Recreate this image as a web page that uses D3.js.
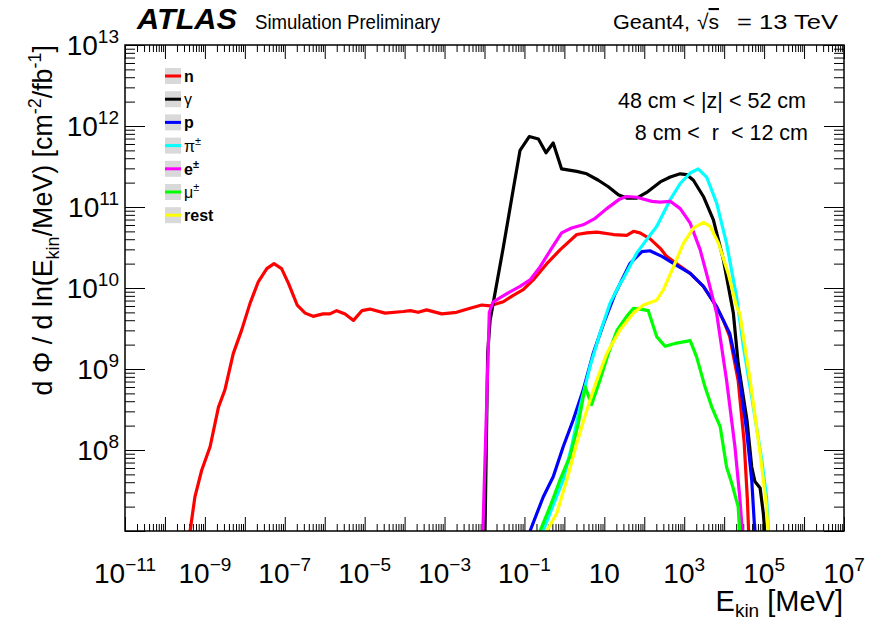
<!DOCTYPE html>
<html>
<head>
<meta charset="utf-8">
<script src="https://cdn.jsdelivr.net/npm/d3@7"></script>
<style>
  html, body { margin: 0; padding: 0; background: #fff; }
  svg { display: block; font-family: "Liberation Sans", Arial, Helvetica, sans-serif; }
</style>
</head>
<body>
<svg id="chart" width="870" height="625"></svg>
<script>
// Particle fluxes: pairs of [log10(E_kin / MeV), log10(dPhi/dlnE)]
const nData = [[-9.46,6.9],[-9.37,7.0],[-9.25,7.42],[-9.08,7.75],[-8.87,8.04],[-8.66,8.53],[-8.50,8.74],[-8.29,9.19],[-8.08,9.48],[-7.87,9.81],[-7.66,10.08],[-7.45,10.24],[-7.27,10.30],[-7.08,10.24],[-6.91,10.06],[-6.69,9.79],[-6.49,9.69],[-6.29,9.65],[-6.04,9.68],[-5.87,9.68],[-5.70,9.72],[-5.49,9.68],[-5.28,9.60],[-5.07,9.72],[-4.87,9.74],[-4.49,9.69],[-4.03,9.71],[-3.86,9.72],[-3.66,9.70],[-3.45,9.73],[-3.07,9.68],[-2.70,9.70],[-2.36,9.75],[-2.07,9.79],[-1.86,9.78],[-1.53,9.83],[-1.28,9.91],[-1.03,9.98],[-0.78,10.10],[-0.44,10.30],[-0.11,10.47],[0.31,10.66],[0.56,10.68],[0.81,10.69],[1.23,10.66],[1.56,10.65],[1.73,10.70],[1.89,10.68],[2.14,10.61],[2.40,10.49],[2.56,10.39],[2.81,10.30],[3.15,10.18],[3.48,10.02],[3.81,9.77],[3.98,9.60],[4.14,9.40],[4.35,8.86],[4.50,8.10],[4.58,7.40],[4.62,6.9]];
const gammaData = [[-1.99,6.9],[-1.92,9.2],[-1.86,9.60],[-1.53,10.50],[-1.28,11.22],[-1.11,11.70],[-0.88,11.87],[-0.65,11.84],[-0.46,11.67],[-0.28,11.79],[-0.07,11.47],[0.31,11.44],[0.56,11.41],[0.85,11.33],[1.10,11.25],[1.35,11.15],[1.56,11.11],[1.81,11.11],[2.06,11.18],[2.40,11.31],[2.65,11.37],[2.90,11.41],[3.06,11.40],[3.23,11.33],[3.48,11.13],[3.73,10.84],[3.98,10.35],[4.23,9.69],[4.35,9.07],[4.57,8.37],[4.69,7.79],[4.77,7.61],[4.90,7.53],[4.98,7.22],[5.03,6.9]];
const pData = [[-0.92,6.9],[-0.86,7.0],[-0.53,7.42],[-0.28,7.67],[-0.03,8.04],[0.22,8.37],[0.47,8.74],[0.72,9.19],[0.98,9.56],[1.27,9.93],[1.64,10.30],[1.94,10.45],[2.14,10.46],[2.44,10.39],[2.81,10.28],[3.15,10.18],[3.48,10.02],[3.81,9.77],[3.98,9.60],[4.14,9.44],[4.39,8.86],[4.56,8.25],[4.69,7.63],[4.76,7.05],[4.78,6.9]];
const piData = [[-0.58,6.9],[-0.53,7.0],[-0.36,7.22],[-0.03,7.63],[0.18,8.04],[0.39,8.53],[0.64,9.03],[0.89,9.44],[1.14,9.81],[1.39,10.05],[1.48,10.12],[1.81,10.43],[2.14,10.65],[2.31,10.76],[2.65,11.09],[2.90,11.29],[3.15,11.42],[3.35,11.47],[3.56,11.37],[3.81,11.05],[4.06,10.55],[4.31,9.89],[4.48,9.28],[4.73,8.53],[4.94,7.88],[5.06,7.42],[5.12,6.9]];
const eData = [[-2.07,6.9],[-2.04,7.0],[-1.95,8.5],[-1.88,9.70],[-1.78,9.83],[-1.44,9.93],[-1.11,10.02],[-0.86,10.10],[-0.61,10.26],[-0.32,10.49],[-0.07,10.68],[0.18,10.74],[0.47,10.78],[0.77,10.86],[1.06,10.98],[1.39,11.10],[1.56,11.13],[1.81,11.12],[2.19,11.07],[2.40,11.06],[2.65,11.07],[2.90,10.98],[3.15,10.80],[3.40,10.47],[3.60,10.10],[3.81,9.69],[4.06,8.86],[4.27,8.04],[4.39,7.42],[4.47,6.9]];
const muData = [[-0.65,6.9],[-0.61,7.0],[-0.36,7.30],[-0.11,7.63],[0.14,7.92],[0.35,8.33],[0.52,8.78],[0.68,8.56],[0.89,8.86],[1.10,9.19],[1.32,9.48],[1.56,9.65],[1.73,9.75],[1.89,9.74],[2.10,9.72],[2.31,9.40],[2.52,9.28],[2.81,9.32],[3.15,9.35],[3.31,9.15],[3.52,8.78],[3.69,8.53],[3.90,8.29],[4.06,7.79],[4.19,7.59],[4.35,7.30],[4.40,6.9]];
const restData = [[-0.50,6.9],[-0.44,7.0],[-0.19,7.22],[0.06,7.63],[0.31,8.08],[0.56,8.49],[0.81,8.86],[1.06,9.19],[1.39,9.48],[1.73,9.69],[1.98,9.79],[2.31,9.85],[2.48,9.98],[2.73,10.26],[2.98,10.55],[3.23,10.74],[3.48,10.81],[3.65,10.76],[3.86,10.55],[4.10,10.18],[4.31,9.77],[4.39,9.69],[4.65,8.86],[4.90,7.96],[5.06,7.30],[5.11,6.9]];

const seriesNames  = ["n", "\u03b3", "p", "\u03c0", "e", "\u03bc", "rest"];
const seriesSup    = ["", "", "", "\u00b1", "\u00b1", "\u00b1", ""];
const seriesBold   = [true, false, true, false, true, false, true];
const seriesColors = ["#ff0000", "#000000", "#0000ff", "#00ffff", "#ff00ff", "#00ff00", "#ffff00"];
const seriesData   = [nData, gammaData, pData, piData, eData, muData, restData];

// Axis ranges and labelled decades
const xDomain = [1e-11, 1e7];
const yDomain = [1e7, 1e13];
const xLabelExps = [-11, -9, -7, -5, -3, -1, 1, 3, 5, 7];
const yLabelExps = [8, 9, 10, 11, 12, 13];

const svg = d3.select("#chart");
const L = 125, R = 844, T = 45, B = 531;

const x = d3.scaleLog().domain(xDomain).range([L, R]);
const y = d3.scaleLog().domain(yDomain).range([B, T]);

function decadeTicks(lo, hi, major) {
  const out = [];
  for (let d = lo; d < hi; d++) {
    for (let k = 1; k <= 9; k++) {
      if ((k === 1) === major) out.push(k * Math.pow(10, d));
    }
  }
  if (major) out.push(Math.pow(10, hi));
  return out;
}
const xMajor = decadeTicks(-11, 7, true), xMinor = decadeTicks(-11, 7, false);
const yMajor = decadeTicks(7, 13, true), yMinor = decadeTicks(7, 13, false);

// Ticks pointing into the frame on all four sides
function tickAxis(axisFn, scale, values, size, tx, ty) {
  const g = svg.append("g").attr("transform", `translate(${tx},${ty})`)
    .call(axisFn(scale).tickValues(values).tickSizeInner(-size).tickSizeOuter(0).tickFormat(""));
  g.select(".domain").remove();
  g.selectAll(".tick line").attr("stroke", "#000").attr("stroke-width", 1);
}
tickAxis(d3.axisBottom, x, xMajor, 14, 0, B);
tickAxis(d3.axisBottom, x, xMinor, 7, 0, B);
tickAxis(d3.axisTop, x, xMajor, 14, 0, T);
tickAxis(d3.axisTop, x, xMinor, 7, 0, T);
tickAxis(d3.axisLeft, y, yMajor, 20, L, 0);
tickAxis(d3.axisLeft, y, yMinor, 10, L, 0);
tickAxis(d3.axisRight, y, yMajor, 20, R, 0);
tickAxis(d3.axisRight, y, yMinor, 10, R, 0);

// Clip the curves to the frame
svg.append("clipPath").attr("id", "plotClip")
  .append("rect").attr("x", L).attr("y", T).attr("width", R - L).attr("height", B - T);

const line = d3.line()
  .x(d => x(Math.pow(10, d[0])))
  .y(d => y(Math.pow(10, d[1])));

const curves = svg.append("g").attr("clip-path", "url(#plotClip)");
seriesData.forEach((data, i) => {
  curves.append("path")
    .datum(data)
    .attr("d", line)
    .attr("fill", "none")
    .attr("stroke", seriesColors[i])
    .attr("stroke-width", 3.2)
    .attr("stroke-linejoin", "round");
});

// Frame
svg.append("rect").attr("x", L).attr("y", T).attr("width", R - L).attr("height", B - T)
  .attr("fill", "none").attr("stroke", "#000").attr("stroke-width", 1.5);

// Tick labels
const labelSize = 28, supSize = 19;
function powerLabel(g, exp) {
  if (exp === 1) { g.append("tspan").text("10"); return; }
  g.append("tspan").text("10");
  g.append("tspan").attr("dy", -12).attr("font-size", supSize)
    .text(exp < 0 ? "\u2212" + (-exp) : String(exp));
}
xLabelExps.forEach(e => {
  const t = svg.append("text")
    .attr("x", x(Math.pow(10, e)))
    .attr("y", 583)
    .attr("text-anchor", "middle")
    .attr("font-size", labelSize)
    .attr("fill", "#000");
  powerLabel(t, e);
});
yLabelExps.forEach(e => {
  const t = svg.append("text")
    .attr("x", 119)
    .attr("y", y(Math.pow(10, e)) + 10)
    .attr("text-anchor", "end")
    .attr("font-size", labelSize)
    .attr("fill", "#000");
  powerLabel(t, e);
});

// Axis titles
const xt = svg.append("text").attr("x", 843).attr("y", 611)
  .attr("text-anchor", "end").attr("font-size", 29);
xt.append("tspan").text("E");
xt.append("tspan").attr("dy", 6).attr("font-size", 19).text("kin");
xt.append("tspan").attr("dy", -6).text(" [MeV]");

const yt = svg.append("text")
  .attr("transform", "translate(52,45) rotate(-90)")
  .attr("text-anchor", "end").attr("font-size", 26.8);
yt.append("tspan").text("d \u03a6 / d ln(E");
yt.append("tspan").attr("dy", 7).attr("font-size", 18).text("kin");
yt.append("tspan").attr("dy", -7).text("/MeV) [cm");
yt.append("tspan").attr("dy", -11).attr("font-size", 18).text("-2");
yt.append("tspan").attr("dy", 11).text("/fb");
yt.append("tspan").attr("dy", -11).attr("font-size", 18).text("-1");
yt.append("tspan").attr("dy", 11).text("]");

// Header
svg.append("text").attr("x", 137).attr("y", 29)
  .attr("font-size", 30).attr("font-weight", "bold").attr("font-style", "italic")
  .attr("textLength", 100).attr("lengthAdjust", "spacingAndGlyphs").text("ATLAS");
svg.append("text").attr("x", 255).attr("y", 29)
  .attr("font-size", 21).attr("textLength", 185).attr("lengthAdjust", "spacingAndGlyphs")
  .text("Simulation Preliminary");
svg.append("text").attr("x", 613).attr("y", 29)
  .attr("font-size", 21).attr("textLength", 77).attr("lengthAdjust", "spacingAndGlyphs")
  .text("Geant4,");
const rs = svg.append("text").attr("x", 697).attr("y", 29).attr("font-size", 21);
rs.append("tspan").text("\u221a");
rs.append("tspan").attr("text-decoration", "overline").text("s");
svg.append("text").attr("x", 737).attr("y", 29)
  .attr("font-size", 21).attr("textLength", 101).attr("lengthAdjust", "spacingAndGlyphs")
  .text("= 13 TeV");

// Region selection
svg.append("text").attr("x", 806).attr("y", 108).attr("text-anchor", "end")
  .attr("font-size", 21.5).text("48 cm < |z| < 52 cm");
svg.append("text").attr("x", 808).attr("y", 140).attr("text-anchor", "end")
  .attr("font-size", 21.5).style("white-space", "pre")
  .text("8 cm <  r  < 12 cm");

// Legend
const legY0 = 76, legDy = 23.2;
seriesNames.forEach((name, i) => {
  const cy = legY0 + i * legDy;
  svg.append("rect").attr("x", 165).attr("y", cy - 8).attr("width", 16).attr("height", 16)
    .attr("fill", "#d9d9d9");
  svg.append("line").attr("x1", 165).attr("x2", 181).attr("y1", cy).attr("y2", cy)
    .attr("stroke", seriesColors[i]).attr("stroke-width", 3);
  const t = svg.append("text").attr("x", 184).attr("y", cy + 6)
    .attr("font-size", 16).attr("font-weight", seriesBold[i] ? "bold" : "normal");
  t.append("tspan").text(name);
  if (seriesSup[i]) t.append("tspan").attr("dy", -7).attr("font-size", 11).text(seriesSup[i]);
});
</script>
</body>
</html>
